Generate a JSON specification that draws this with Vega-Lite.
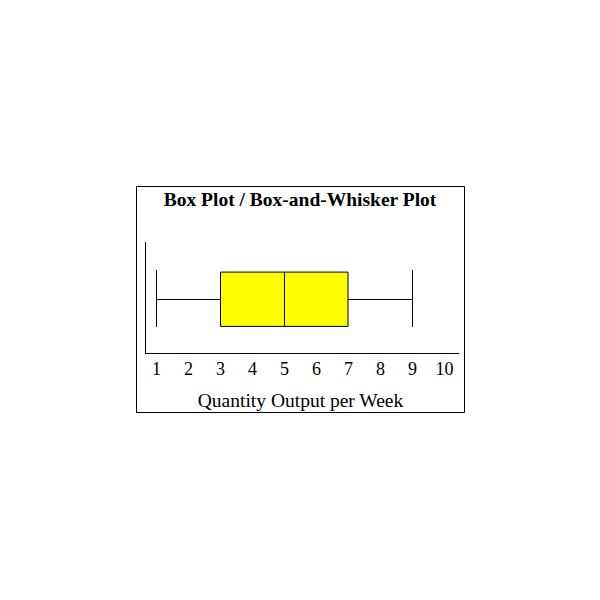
{
  "$schema": "https://vega.github.io/schema/vega-lite/v6.json",
  "autosize": "none",
  "padding": {"left": 136, "top": 186, "right": 10, "bottom": 10},
  "width": 328,
  "height": 226,
  "background": "white",
  "config": {
    "view": {"stroke": "black", "strokeWidth": 1},
    "font": "Liberation Serif",
    "axis": {"labelOverlap": false}
  },
  "title": {
    "text": "Box Plot / Box-and-Whisker Plot",
    "font": "Liberation Serif",
    "fontSize": 19.5,
    "fontWeight": "bold",
    "color": "black",
    "anchor": "middle",
    "baseline": "alphabetic",
    "offset": -22,
    "dy": 17
  },
  "data": {"values": [{"min": 1, "q1": 3, "median": 5, "q3": 7, "max": 9}]},
  "layer": [
    {
      "mark": {"type": "rect", "fill": "#FFFF00", "stroke": "black", "strokeWidth": 1, "xOffset": 0.5, "yOffset": 0.5},
      "encoding": {
        "x": {
          "field": "q1",
          "type": "quantitative",
          "scale": {"domain": [0.375, 10.625], "nice": false, "zero": false},
          "axis": {
            "values": [1, 2, 3, 4, 5, 6, 7, 8, 9, 10],
            "tickCount": 20,
            "format": "d",
            "orient": "bottom",
            "offset": -59,
            "domain": false,
            "ticks": false,
            "tickSize": 0,
            "grid": false,
            "labelPadding": 7,
            "labelOverlap": false,
            "labelBound": false,
            "labelFont": "Liberation Serif",
            "labelFontSize": 18,
            "labelColor": "black",
            "labelFlush": false,
            "title": "Quantity Output per Week",
            "titleFont": "Liberation Serif",
            "titleFontSize": 19.5,
            "titleFontWeight": "normal",
            "titleColor": "black",
            "titlePadding": 13
          }
        },
        "x2": {"field": "q3"},
        "y": {
          "datum": 3.81,
          "type": "quantitative",
          "scale": {"domain": [0, 10], "nice": false, "zero": false},
          "axis": null
        },
        "y2": {"datum": 6.19}
      }
    },
    {
      "mark": {"type": "rule", "color": "black", "strokeWidth": 1, "yOffset": 0.5},
      "encoding": {
        "x": {"datum": 0.656, "type": "quantitative"},
        "x2": {"datum": 10.48},
        "y": {"datum": 2.61, "type": "quantitative"}
      }
    },
    {
      "mark": {"type": "rule", "color": "black", "strokeWidth": 1, "xOffset": 0.5},
      "encoding": {
        "x": {"datum": 0.656, "type": "quantitative"},
        "y": {"datum": 2.61, "type": "quantitative"},
        "y2": {"datum": 7.52}
      }
    },
    {
      "mark": {"type": "rule", "color": "black", "strokeWidth": 1, "yOffset": 0.5},
      "encoding": {
        "x": {"field": "min", "type": "quantitative"},
        "x2": {"field": "q1"},
        "y": {"datum": 5, "type": "quantitative"}
      }
    },
    {
      "mark": {"type": "rule", "color": "black", "strokeWidth": 1, "yOffset": 0.5},
      "encoding": {
        "x": {"field": "q3", "type": "quantitative"},
        "x2": {"field": "max"},
        "y": {"datum": 5, "type": "quantitative"}
      }
    },
    {
      "mark": {"type": "rule", "color": "black", "strokeWidth": 1, "xOffset": 0.5},
      "encoding": {
        "x": {"field": "min", "type": "quantitative"},
        "y": {"datum": 3.76, "type": "quantitative"},
        "y2": {"datum": 6.28}
      }
    },
    {
      "mark": {"type": "rule", "color": "black", "strokeWidth": 1, "xOffset": 0.5},
      "encoding": {
        "x": {"field": "max", "type": "quantitative"},
        "y": {"datum": 3.76, "type": "quantitative"},
        "y2": {"datum": 6.28}
      }
    },
    {
      "mark": {"type": "rule", "color": "black", "strokeWidth": 1, "xOffset": 0.5},
      "encoding": {
        "x": {"field": "median", "type": "quantitative"},
        "y": {"datum": 3.81, "type": "quantitative"},
        "y2": {"datum": 6.19}
      }
    }
  ]
}
